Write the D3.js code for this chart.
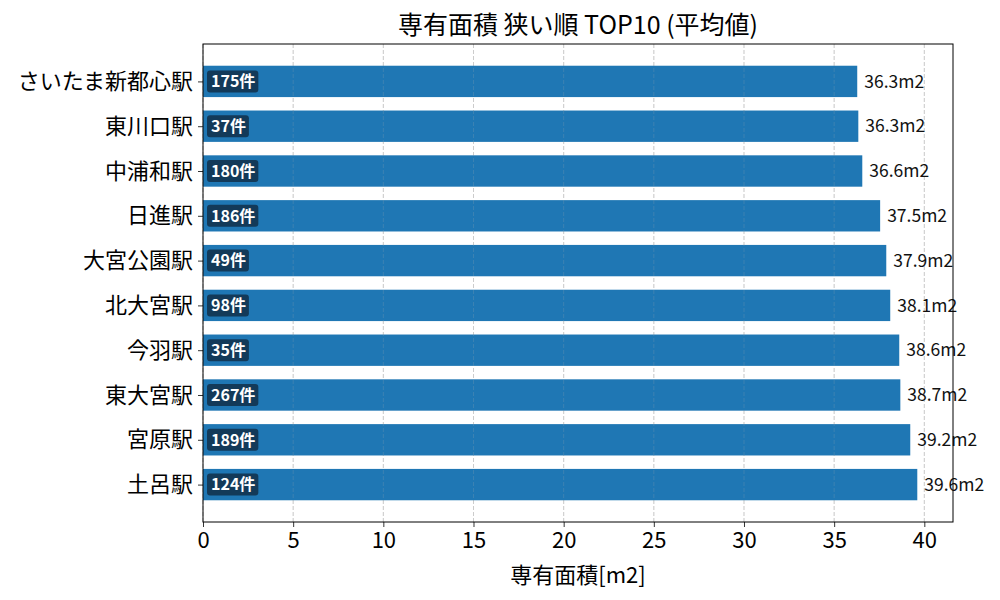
<!DOCTYPE html>
<html>
<head>
<meta charset="utf-8">
<script src="https://cdn.jsdelivr.net/npm/d3@7"></script>
<style>
  body { margin: 0; background: #fff; }
  svg { font-family: "Noto Sans CJK JP", "Noto Sans", sans-serif; }
</style>
</head>
<body>
<svg id="chart" width="1000" height="600"></svg>
<script>
// station names, top to bottom
var stations = ['さいたま新都心駅', '東川口駅', '中浦和駅', '日進駅', '大宮公園駅',
	'北大宮駅', '今羽駅', '東大宮駅', '宮原駅', '土呂駅'];
// average floor area [m2]
var areas = [36.28, 36.34, 36.56, 37.55, 37.89, 38.11, 38.61, 38.67, 39.22, 39.61];
// listing counts
var counts = [175, 37, 180, 186, 49, 98, 35, 267, 189, 124];
var xTicks = [0, 5, 10, 15, 20, 25, 30, 35, 40];

var margin = {top: 44, right: 47, bottom: 78, left: 203};
var width = 1000 - margin.left - margin.right;
var height = 600 - margin.top - margin.bottom;

var svg = d3.select('#chart');
var g = svg.append('g').attr('transform', 'translate(' + margin.left + ',' + margin.top + ')');

var x = d3.scaleLinear().domain([0, d3.max(areas) * 1.05]).range([0, width]);
// matplotlib style: bars of height 0.7 with 5% margin
var barH = 0.7;
var y = d3.scaleLinear()
	.domain([-barH / 2 - 0.485, stations.length - 1 + barH / 2 + 0.485])
	.range([0, height]);
var unit = y(1) - y(0);

var rows = stations.map(function (s, i) {
	return {name: s, area: areas[i], count: counts[i], i: i};
});

var drawGrid = function (opacity) {
	g.append('g').selectAll('line').data(xTicks).enter().append('line')
		.attr('x1', function (d) { return x(d); })
		.attr('x2', function (d) { return x(d); })
		.attr('y1', 0).attr('y2', height)
		.attr('stroke', '#b0b0b0').attr('stroke-width', 0.8)
		.attr('stroke-dasharray', '4,2').attr('opacity', opacity);
};

// grid under the bars, then a faint copy over them
drawGrid(0.7);

g.selectAll('.bar').data(rows).enter().append('rect')
	.attr('class', 'bar')
	.attr('x', x(0))
	.attr('y', function (d) { return y(d.i) - unit * barH / 2; })
	.attr('width', function (d) { return x(d.area) - x(0); })
	.attr('height', unit * barH)
	.attr('fill', '#1f77b4');

drawGrid(0.25);

// value labels
g.selectAll('.val').data(rows).enter().append('text')
	.attr('class', 'val')
	.attr('x', function (d) { return x(d.area) + 7; })
	.attr('y', function (d) { return y(d.i); })
	.attr('dy', '0.35em')
	.attr('font-size', '17.5px')
	.attr('fill', '#111')
	.text(function (d) { return d.area.toFixed(1) + 'm2'; });

// count badges
var badge = g.selectAll('.badge').data(rows).enter().append('g')
	.attr('class', 'badge')
	.attr('transform', function (d) { return 'translate(' + (x(0) + 8) + ',' + y(d.i) + ')'; });
badge.append('text')
	.attr('x', 0).attr('dy', '0.36em')
	.attr('font-size', '16px').attr('font-weight', 'bold')
	.attr('fill', '#fff')
	.text(function (d) { return d.count + '件'; });
badge.each(function () {
	var grp = d3.select(this);
	var bb = grp.select('text').node().getBBox();
	grp.insert('rect', 'text')
		.attr('x', bb.x - 4).attr('y', -11)
		.attr('width', bb.width + 7).attr('height', 22)
		.attr('rx', 3)
		.attr('fill', '#133a59');
});

// axes
var xAxis = g.append('g').attr('transform', 'translate(0,' + height + ')')
	.call(d3.axisBottom(x).tickValues(xTicks).tickSize(5).tickPadding(5).tickSizeOuter(0));
xAxis.selectAll('text').attr('font-size', '22px').attr('fill', '#000')
	.style('font-family', '"Noto Sans CJK JP", "Noto Sans", sans-serif');

var yAxis = g.append('g')
	.call(d3.axisLeft(y).tickValues(d3.range(stations.length))
		.tickFormat(function (i) { return stations[i]; })
		.tickSize(5).tickPadding(5).tickSizeOuter(0));
yAxis.selectAll('text').attr('font-size', '22px').attr('fill', '#000')
	.style('font-family', '"Noto Sans CJK JP", "Noto Sans", sans-serif');

[xAxis, yAxis].forEach(function (a) {
	a.select('.domain').remove();
	a.selectAll('line').attr('stroke', '#000').attr('stroke-width', 0.8);
});

// frame
g.append('rect').attr('x', 0).attr('y', 0).attr('width', width).attr('height', height)
	.attr('fill', 'none').attr('stroke', '#000').attr('stroke-width', 1);

// title and label
svg.append('text')
	.attr('x', margin.left + width / 2).attr('y', 34)
	.attr('text-anchor', 'middle').attr('font-size', '25px')
	.text('専有面積 狭い順 TOP10 (平均値)');
svg.append('text')
	.attr('x', margin.left + width / 2).attr('y', 583)
	.attr('text-anchor', 'middle').attr('font-size', '22px')
	.text('専有面積[m2]');
</script>
</body>
</html>
